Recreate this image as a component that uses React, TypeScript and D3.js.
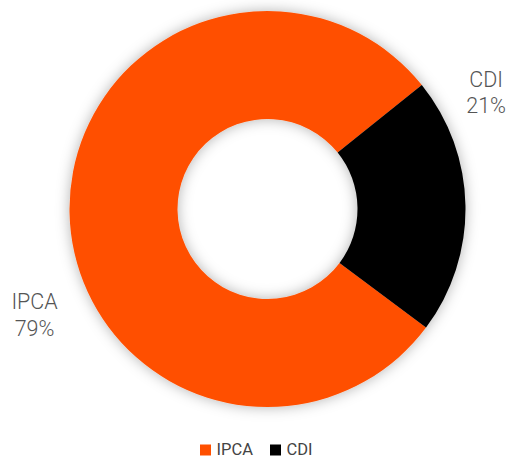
import React from "react";
import * as d3 from "d3";

// chart data
const categories = ["IPCA", "CDI"];
const shares = [79, 21];
const colors = ["#FF5000", "#000000"];

const W = 510;
const H = 459;
const cx = 267.5;
const cy = 209;
const outerR = 198;
const innerR = 90;

const deg = Math.PI / 180;

export default function App() {
  const total = d3.sum(shares);
  // second slice (CDI) centered near 3 o'clock
  const cdiSpan = (shares[1] / total) * 360;
  const start = (89 + cdiSpan / 2) * deg;

  const pie = d3
    .pie<number>()
    .sort(null)
    .value((d) => d)
    .startAngle(start)
    .endAngle(start + 2 * Math.PI);
  const arcs = pie(shares);

  const arc = d3.arc<d3.PieArcDatum<number>>().innerRadius(innerR).outerRadius(outerR);

  // label placement (angle from 12 o'clock, distance from center)
  const labelPos = [
    { angle: 246.5, dist: 254 },
    { angle: 61, dist: 250 },
  ];

  const fmt = (v: number) => Math.round((v / total) * 100) + "%";

  // legend layout
  const legendItems = categories.map((c, i) => ({ name: c, color: colors[i] }));
  const legendX = [200, 270];

  return (
    <svg
      width={W}
      height={H}
      style={{ position: "absolute", left: 0, top: 0, background: "#fff" }}
    >
      <defs>
        <filter id="shadow" x="-20%" y="-20%" width="140%" height="140%">
          <feDropShadow dx="0" dy="0" stdDeviation="7" floodColor="#000" floodOpacity="0.3" />
        </filter>
      </defs>
      <g transform={`translate(${cx},${cy})`} filter="url(#shadow)">
        {arcs.map((a, i) => (
          <path key={categories[i]} d={arc(a) || ""} fill={colors[i]} />
        ))}
      </g>
      {arcs.map((a, i) => {
        const p = labelPos[i];
        const x = cx + Math.sin(p.angle * deg) * p.dist;
        const y = cy - Math.cos(p.angle * deg) * p.dist;
        return (
          <text
            key={"lbl" + i}
            x={x}
            y={y}
            textAnchor="middle"
            fontFamily="Roboto, sans-serif"
            fontWeight={300}
            fontSize={21.5}
            fill="#555"
          >
            <tspan x={x} dy="-0.05em">{categories[i]}</tspan>
            <tspan x={x} dy="1.24em">{fmt(a.value)}</tspan>
          </text>
        );
      })}
      <g>
        {legendItems.map((d, i) => (
          <g key={"leg" + d.name} transform={`translate(${legendX[i]},444)`}>
            <rect x={0} y={0.5} width={11} height={11} fill={d.color} />
            <text
              x={16.5}
              y={11}
              fontFamily="Roboto, sans-serif"
              fontSize={16.5}
              fill="#444"
            >
              {d.name}
            </text>
          </g>
        ))}
      </g>
    </svg>
  );
}
